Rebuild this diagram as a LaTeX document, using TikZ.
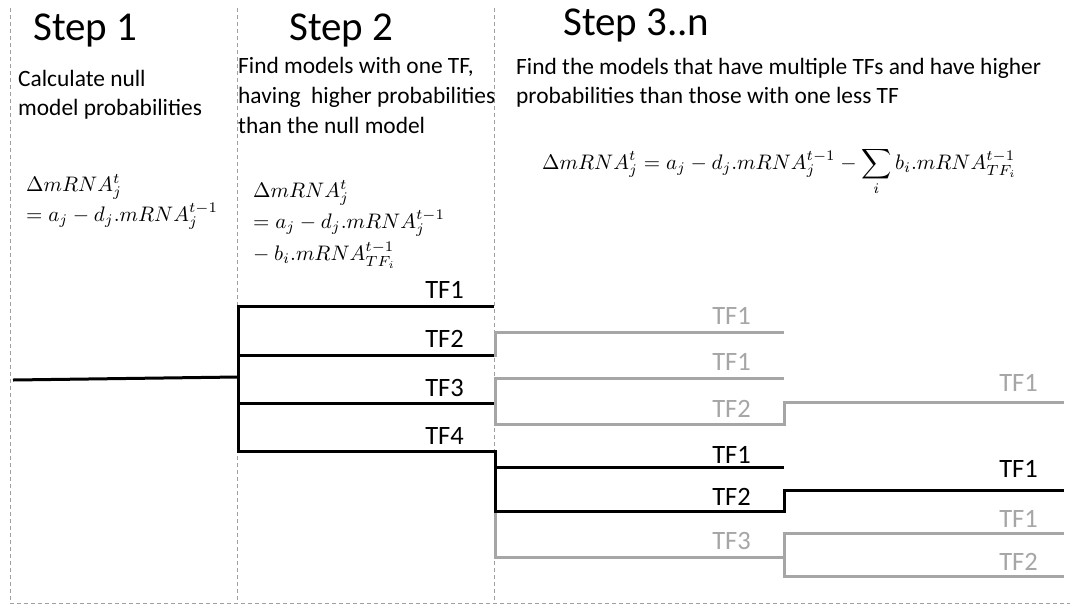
\documentclass[tikz,border=0pt]{standalone}
\usepackage{graphicx}
\usepackage{amsmath}
\usepackage[no-math]{fontspec}
\setmainfont{Carlito}
\definecolor{tfgray}{HTML}{A6A6A6}
\definecolor{divgray}{HTML}{A0A0A0}
\newcommand{\eqbox}[1]{\scalebox{2.1}{\fontsize{10}{12}\selectfont $#1$}}
\begin{document}
\begin{tikzpicture}[x=1pt,y=-1pt,
 divider/.style={draw=divgray, line width=0.9pt, dash pattern=on 4pt off 3pt},
 blk/.style={draw=black, line width=3pt, line join=miter},
 gry/.style={draw=tfgray, line width=3pt, line join=miter},
 title/.style={inner sep=0, anchor=base west, font=\fontsize{41}{49}\selectfont},
 body/.style={inner sep=0, anchor=base west, font=\fontsize{23.4}{28}\selectfont},
 eqn/.style={inner sep=0, anchor=base west},
 lab/.style={inner sep=0, anchor=base east, font=\fontsize{26.5}{30}\selectfont},
 glab/.style={lab, text=tfgray}]
\useasboundingbox (0,0) rectangle (1070,606);
% dividers
\coordinate (d1t) at (10,8);   \coordinate (d1b) at (10,603);
\coordinate (d2t) at (237,8);  \coordinate (d2b) at (237,603);
\coordinate (d3t) at (494,8);  \coordinate (d3b) at (494,603);
\coordinate (dr) at (1070,603);
\draw[divider] (d1t) -- (d1b) -- (dr);
\draw[divider] (d2t) -- (d2b);
\draw[divider] (d3t) -- (d3b);
% titles
\node[title] (t1) at (33,40) {Step 1};
\node[title] (t2) at (289,40) {Step 2};
\node[title] (t3) at (563,35) {Step 3..n};
% descriptions
\node[body] (a1) at (18,86) {Calculate null};
\node[body] (a2) at (18,115) {model probabilities};
\node[body] (b1t) at (238,73) {Find models with one TF,};
\node[body] (b2t) at (238,103) {having\ \ higher probabilities};
\node[body] (b3t) at (238,133) {than the null model};
\node[body] (c1t) at (516,74) {Find the models that have multiple TFs and have higher};
\node[body] (c2t) at (516,103) {probabilities than those with one less TF};
% equations
\node[eqn] (e1a) at (26,191) {\eqbox{\Delta mRNA_j^t}};
\node[eqn] (e1b) at (26,221) {\eqbox{= a_j - d_j.mRNA_j^{t-1}}};
\node[eqn] (e2a) at (253,197) {\eqbox{\Delta mRNA_j^t}};
\node[eqn] (e2b) at (253,228) {\eqbox{= a_j - d_j.mRNA_j^{t-1}}};
\node[eqn] (e2c) at (253,260) {\eqbox{\mathord{-}\mskip\medmuskip b_i.mRNA_{TF_i}^{t-1}}};
\node[eqn] (e3) at (542,169) {\eqbox{\displaystyle \Delta mRNA_j^t = a_j - d_j.mRNA_j^{t-1} - \sum_i b_i.mRNA_{TF_i}^{t-1}}};
% tree coordinates
\coordinate (n0) at (13,380);
\coordinate (n1) at (238,377);
\coordinate (s1) at (238,306); \coordinate (s2) at (238,355);
\coordinate (s3) at (238,403); \coordinate (s4) at (238,451);
\coordinate (f1) at (494,306); \coordinate (f2) at (494,355);
\coordinate (f3) at (494,403); \coordinate (f4) at (494,451);
% gray group A
\coordinate (ga0) at (495,357); \coordinate (ga1) at (495,332); \coordinate (ga2) at (784,332);
% gray group B
\coordinate (gb0) at (784,378); \coordinate (gb1) at (495,378); \coordinate (gb2) at (495,424);
\coordinate (gb3) at (784,424); \coordinate (gb4) at (784,402); \coordinate (gb5) at (1064,402);
% black group C
\coordinate (k0) at (495,451); \coordinate (k1) at (495,511); \coordinate (k2) at (784,511);
\coordinate (k3) at (784,490); \coordinate (k4) at (1064,490);
\coordinate (k5) at (495,467); \coordinate (k6) at (784,467);
% gray group D
\coordinate (g0) at (495,557); \coordinate (g1) at (784,557);
\coordinate (g2) at (1064,533); \coordinate (g3) at (784,533);
\coordinate (g4) at (784,576); \coordinate (g5) at (1064,576);
% gray lines
\draw[gry] (ga0) -- (ga1) -- (ga2);
\draw[gry] (gb0) -- (gb1) -- (gb2) -- (gb3) -- (gb4) -- (gb5);
\draw[gry] (k1) -- (g0) -- (g1);
\draw[gry] (g2) -- (g3) -- (g4) -- (g5);
% black lines
\draw[blk] (n0) -- (n1);
\draw[blk] (f1) -- (s1) -- (s4) -- (f4) -- (k0) -- (k1) -- (k2) -- (k3) -- (k4);
\draw[blk] (s2) -- (f2);
\draw[blk] (s3) -- (f3);
\draw[blk] (k5) -- (k6);
% labels
\node[lab] (l1) at (464,298) {TF1};
\node[lab] (l2) at (464,347) {TF2};
\node[lab] (l3) at (464,396) {TF3};
\node[lab] (l4) at (464,444) {TF4};
\node[glab] (m1) at (751,324) {TF1};
\node[glab] (m2) at (751,370) {TF1};
\node[glab] (m3) at (751,417) {TF2};
\node[lab] (m4) at (751,463) {TF1};
\node[lab] (m5) at (751,505) {TF2};
\node[glab] (m6) at (751,549) {TF3};
\node[glab] (r1) at (1038,391) {TF1};
\node[lab] (r2) at (1038,477) {TF1};
\node[glab] (r3) at (1038,527) {TF1};
\node[glab] (r4) at (1038,570) {TF2};
\end{tikzpicture}
\end{document}
